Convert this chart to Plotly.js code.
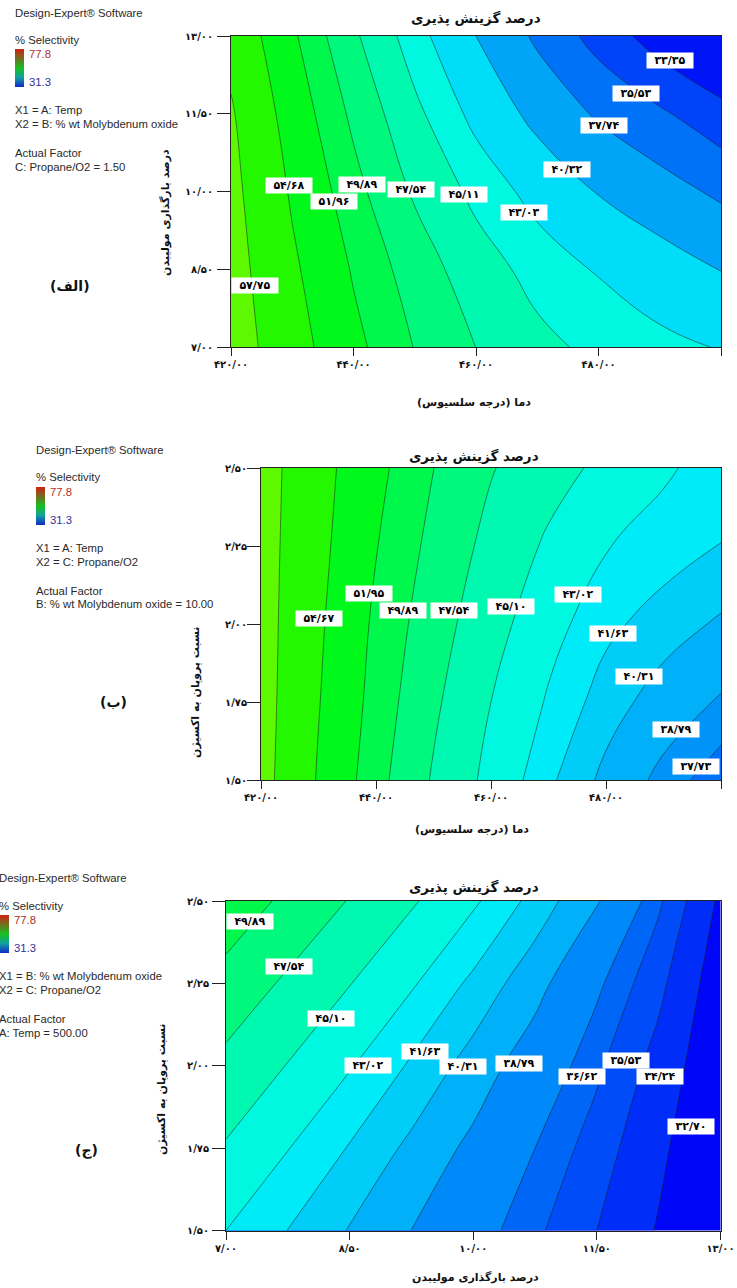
<!DOCTYPE html>
<html><head><meta charset="utf-8">
<script src="https://cdn.plot.ly/plotly-3.0.1.min.js"></script>
<style>html,body{margin:0;padding:0;background:#fff}#chart{width:737px;height:1288px}</style>
</head><body><div id="chart"></div>
<script>
// ---------- DATA ----------
// Panel (الف): Temp (x) vs % wt Molybdenum oxide (y), Propane/O2 = 1.50
const temp1 = [420,430,440,450,460,470,480,490,500];
const moLoad1 = [7,8.5,10,11.5,13];
const sel1 = [
 [59.29,55.83,52.60,49.81,47.52,45.75,44.54,43.65,42.90],
 [58.95,55.14,51.74,48.81,46.23,44.30,42.83,41.52,40.25],
 [58.56,54.36,50.65,47.22,44.51,42.20,40.18,38.70,37.30],
 [58.04,53.46,49.41,45.67,42.35,39.54,37.42,35.86,34.14],
 [56.90,52.36,47.95,43.94,40.32,37.32,34.70,32.28,30.20]
];
const levels1 = [33.35,35.53,37.74,40.32,43.03,45.11,47.54,49.89,51.96,54.68,57.75];

// Panel (ب): Temp (x) vs Propane/O2 (y), Mo oxide = 10.00
const temp2 = [420,430,440,450,460,470,480,490,500];
const ratio2 = [1.5,1.75,2.0,2.25,2.5];
const sel2 = [
 [58.75,54.45,50.65,47.30,44.41,41.91,39.92,38.37,37.00],
 [58.87,54.78,51.14,47.95,45.10,42.82,40.95,39.63,38.63],
 [58.91,55.06,51.52,48.63,45.94,43.66,41.99,40.96,40.10],
 [58.92,55.38,52.05,49.27,46.83,44.74,43.11,42.33,41.60],
 [58.97,55.63,52.57,49.91,47.69,46.00,44.53,43.27,42.30]
];
const levels2 = [37.73,38.79,40.31,41.63,43.02,45.10,47.54,49.89,51.95,54.67,57.75];
const labelled2 = [true,true,true,true,true,true,true,true,true,true,false];

// Panel (ج): Mo oxide (x) vs Propane/O2 (y), Temp = 500.00
const moLoad3 = [7,7.75,8.5,9.25,10,10.75,11.5,12.25,13];
const ratio3 = [1.5,1.75,2.0,2.25,2.5];
const sel3 = [
 [43.02,41.61,40.23,38.78,37.29,35.79,34.24,32.57,30.90],
 [44.88,43.07,41.53,39.98,38.38,36.62,34.92,33.04,31.09],
 [46.94,45.01,43.14,41.43,39.72,37.80,35.78,33.70,31.35],
 [49.09,47.16,45.17,43.20,41.30,39.39,36.89,34.61,31.74],
 [51.35,49.39,47.42,45.35,43.28,41.14,38.97,35.74,32.41]
];
const levels3 = [32.70,34.24,35.53,36.62,38.79,40.31,41.63,43.02,45.10,47.54,49.89];

const tempTicks = [420,440,460,480,500];
const moTicks = [7,8.5,10,11.5,13];
const ratioTicks = [1.5,1.75,2.0,2.25,2.5];
const selRange = [31.3,77.8];

// ---------- LAYOUT / PLACEMENT ----------
const W=737,H=1288;
const PX=v=>v/W, PY=v=>1-v/H;
const fa='۰۱۲۳۴۵۶۷۸۹';
function toFa(v,d){return v.toFixed(d).replace('.','/').replace(/[0-9]/g,c=>fa[+c]);}
function bandColor(v){
  const t=Math.max(0,Math.min(1,(v-selRange[0])/(selRange[1]-selRange[0])));
  let r,g,b;
  if(t<0.25){r=0;g=t/0.25;b=1;}
  else if(t<0.5){r=0;g=1;b=1-(t-0.25)/0.25;}
  else if(t<0.75){r=(t-0.5)/0.25;g=1;b=0;}
  else {r=1;g=1-(t-0.75)/0.25;b=0;}
  const m=248;
  return `rgb(${Math.round(r*m)},${Math.round(g*m)},${Math.round(b*m)})`;
}
// label positions (data units of each panel), one per level, null = no label
const labPos1=[[491.67,12.52],[486.12,11.89],[480.82,11.28],[474.91,10.43],[467.89,9.60],[458.12,9.94],[449.34,10.04],[441.39,10.13],[436.87,9.80],[429.39,10.11],[423.92,8.18]];
const labPos2=[[495.69,1.544],[492.17,1.663],[485.74,1.831],[481.25,1.969],[475.17,2.095],[463.48,2.055],[453.62,2.042],[444.73,2.042],[438.75,2.097],[430.14,2.019],null];
const labPos3=[[12.64,1.815],[12.27,1.966],[11.85,2.017],[11.32,1.967],[10.55,2.006],[9.88,1.998],[9.42,2.044],[8.72,2.001],[8.27,2.143],[7.76,2.300],[7.29,2.437]];

const panels=[
 {ax:'', x:temp1, y:moLoad1, z:sel1, levels:levels1, lab:labPos1, show:null,
  xt:tempTicks, yt:moTicks, xdom:[231,721], ydom:[36,347], ystand:2,
  title:[476,18], xtitle:['دما (درجه سلسیوس)',474,402], ytitle:['درصد بارگذاری مولیبدن',165,213],
  tag:['(الف)',70,286], left:12.7, top:12.7, cbx:15,
  info:['X1 = A: Temp','X2 = B: % wt Molybdenum oxide','C: Propane/O2 = 1.50']},
 {ax:'2', x:temp2, y:ratio2, z:sel2, levels:levels2, lab:labPos2, show:labelled2,
  xt:tempTicks, yt:ratioTicks, xdom:[261,721], ydom:[468,780], ystand:-2,
  title:[474,456], xtitle:['دما (درجه سلسیوس)',472,829], ytitle:['نسبت پروپان به اکسیژن',196,693],
  tag:['(ب)',113,702], left:33.5, top:450, cbx:36,
  info:['X1 = A: Temp','X2 = C: Propane/O2','B: % wt Molybdenum oxide = 10.00']},
 {ax:'3', x:moLoad3, y:ratio3, z:sel3, levels:levels3, lab:labPos3, show:null,
  xt:moTicks, yt:ratioTicks, xdom:[226,720.5], ydom:[901,1230.5], ystand:1,
  title:[474,887], xtitle:['درصد بارگذاری مولیبدن',476,1277], ytitle:['نسبت پروپان به اکسیژن',161,1090],
  tag:['(ج)',86,1150], left:-3.5, top:878.3, cbx:0,
  info:['X1 = B: % wt Molybdenum oxide','X2 = C: Propane/O2','A: Temp = 500.00']}
];

const traces=[], shapes=[], annotations=[];
const layout={width:W,height:H,margin:{l:0,r:0,t:0,b:0},paper_bgcolor:'#fff',plot_bgcolor:'#fff',
  showlegend:false,hovermode:false,shapes,annotations};
const faFont={family:'DejaVu Sans',size:11,color:'#111',weight:'bold'};
const titleFont={family:'DejaVu Sans',size:13.5,color:'#111',weight:'bold'};
const enFont={family:'Liberation Sans, Arial',size:11.3,color:'#2a2a2a'};

panels.forEach(p=>{
  const xa='x'+p.ax, ya='y'+p.ax;
  layout['xaxis'+p.ax]={domain:[PX(p.xdom[0]),PX(p.xdom[1])],anchor:ya,
    range:[p.x[0],p.x[p.x.length-1]],showgrid:false,zeroline:false,showline:true,mirror:true,
    linecolor:'#222',linewidth:1,ticks:'outside',ticklen:8,tickcolor:'#222',tickwidth:1,
    tickvals:p.xt,ticktext:p.xt.map(v=>toFa(v,2)),tickfont:{family:'DejaVu Sans',size:10,color:'#111',weight:'bold'}};
  layout['yaxis'+p.ax]={domain:[PY(p.ydom[1]),PY(p.ydom[0])],anchor:xa,
    range:[p.y[0],p.y[p.y.length-1]],showgrid:false,zeroline:false,showline:true,mirror:true,
    linecolor:'#222',linewidth:1,ticks:'outside',ticklen:13,tickcolor:'#222',tickwidth:1,ticklabelstandoff:p.ystand,
    tickvals:p.yt,ticktext:p.yt.map(v=>toFa(v,2)),tickfont:{family:'DejaVu Sans',size:10,color:'#111',weight:'bold'}};
  // lowest band as background
  shapes.push({type:'rect',xref:xa+' domain',yref:ya+' domain',x0:0,x1:1,y0:0,y1:1,layer:'below',
    fillcolor:bandColor(p.levels[0]-1.1),line:{width:0}});
  p.levels.forEach((L,i)=>{
    const next = i+1<p.levels.length ? p.levels[i+1] : L+2.4;
    traces.push({type:'contour',x:p.x,y:p.y,z:p.z,xaxis:xa,yaxis:ya,
      contours:{type:'constraint',operation:'<',value:L,showlines:true},
      fillcolor:bandColor((L+next)/2),line:{color:'rgba(25,25,25,0.85)',width:0.6,smoothing:1.3},
      showscale:false,hoverinfo:'skip'});
    const pos=p.lab[i];
    if(pos && (!p.show || p.show[i])){
      annotations.push({xref:xa,yref:ya,x:pos[0],y:pos[1],text:toFa(L,2),showarrow:false,
        bgcolor:'#fff',borderpad:2,width:42,height:11,font:{family:'DejaVu Sans',size:11,color:'#000',weight:'bold'}});
    }
  });
  // mini colour key
  traces.push({type:'scatter',mode:'markers',x:[null],y:[null],xaxis:xa,yaxis:ya,hoverinfo:'skip',
    marker:{color:[selRange[0]],cmin:selRange[0],cmax:selRange[1],opacity:0,
      colorscale:[[0,'#1028c8'],[0.25,'#10a0a0'],[0.5,'#18c020'],[0.75,'#707020'],[1,'#d02010']],
      showscale:true,colorbar:{x:PX(p.cbx),xanchor:'left',xpad:0,y:PY(p.top+36.5),yanchor:'top',ypad:0,
        lenmode:'pixels',len:38,thicknessmode:'pixels',thickness:9,outlinewidth:0,showticklabels:false,ticks:''}}});
  // texts
  const A=(text,x,y,font,extra)=>annotations.push(Object.assign({xref:'paper',yref:'paper',x:PX(x),y:PY(y),
    text,showarrow:false,font,xanchor:'left',yanchor:'middle'},extra||{}));
  A('Design-Expert® Software',p.left,p.top,enFont);
  A('% Selectivity',p.left,p.top+27.5,enFont);
  A('77.8',p.cbx+12,p.top+41.5,Object.assign({},enFont,{color:'#b03030'}));
  A('31.3',p.cbx+12,p.top+69.5,Object.assign({},enFont,{color:'#30309a'}));
  A(p.info[0],p.left,p.top+97.5,enFont);
  A(p.info[1],p.left,p.top+111.5,enFont);
  A('Actual Factor',p.left,p.top+140.5,enFont);
  A(p.info[2],p.left,p.top+154.5,enFont);
  A('درصد گزینش پذیری',p.title[0],p.title[1],titleFont,{xanchor:'center'});
  A(p.xtitle[0],p.xtitle[1],p.xtitle[2],faFont,{xanchor:'center'});
  A(p.ytitle[0],p.ytitle[1],p.ytitle[2],faFont,{xanchor:'center',textangle:-90});
  A(p.tag[0],p.tag[1],p.tag[2],Object.assign({},faFont,{size:14}),{xanchor:'center'});
});

Plotly.newPlot('chart',traces,layout,{staticPlot:true,displayModeBar:false});
</script></body></html>
